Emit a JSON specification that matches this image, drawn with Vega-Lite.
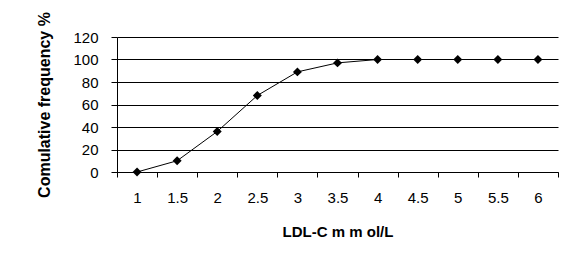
{
  "$schema": "https://vega.github.io/schema/vega-lite/v6.json",
  "width": 441,
  "height": 135,
  "autosize": "none",
  "padding": {"left": 117, "top": 37, "right": 11, "bottom": 87},
  "background": "white",
  "data": {
    "values": [
      {"ldl": 1, "freq": 0},
      {"ldl": 1.5, "freq": 10},
      {"ldl": 2, "freq": 36},
      {"ldl": 2.5, "freq": 68},
      {"ldl": 3, "freq": 89},
      {"ldl": 3.5, "freq": 97},
      {"ldl": 4, "freq": 100},
      {"ldl": 4.5, "freq": 100},
      {"ldl": 5, "freq": 100},
      {"ldl": 5.5, "freq": 100},
      {"ldl": 6, "freq": 100}
    ]
  },
  "mark": {
    "type": "line",
    "color": "black",
    "strokeWidth": 1,
    "point": {"shape": "diamond", "size": 80, "filled": true, "color": "black", "opacity": 1}
  },
  "encoding": {
    "x": {
      "field": "ldl",
      "type": "ordinal",
      "bandPosition": 0.5,
      "scale": {"type": "band", "paddingInner": 0, "paddingOuter": 0},
      "axis": {
        "title": "LDL-C m m ol/L",
        "labelAngle": 0,
        "tickBand": "extent",
        "grid": false,
        "domainColor": "black",
        "tickColor": "black",
        "tickSize": 5,
        "labelPadding": 13,
        "labelFont": "Liberation Sans",
        "labelFontSize": 15,
        "labelColor": "black",
        "titleFont": "Liberation Sans",
        "titleFontSize": 15,
        "titleFontWeight": "bold",
        "titleColor": "black",
        "titlePadding": 19
      }
    },
    "y": {
      "field": "freq",
      "type": "quantitative",
      "scale": {"domain": [0, 120]},
      "axis": {
        "title": "Comulative frequency %",
        "values": [0, 20, 40, 60, 80, 100, 120],
        "grid": true,
        "gridColor": "black",
        "gridOpacity": 1,
        "domainColor": "black",
        "tickColor": "black",
        "tickSize": 6,
        "labelPadding": 13,
        "labelFont": "Liberation Sans",
        "labelFontSize": 15,
        "labelColor": "black",
        "titleFont": "Liberation Sans",
        "titleFontSize": 16,
        "titleFontWeight": "bold",
        "titleColor": "black",
        "titlePadding": 20
      }
    }
  },
  "config": {"view": {"stroke": null}}
}
